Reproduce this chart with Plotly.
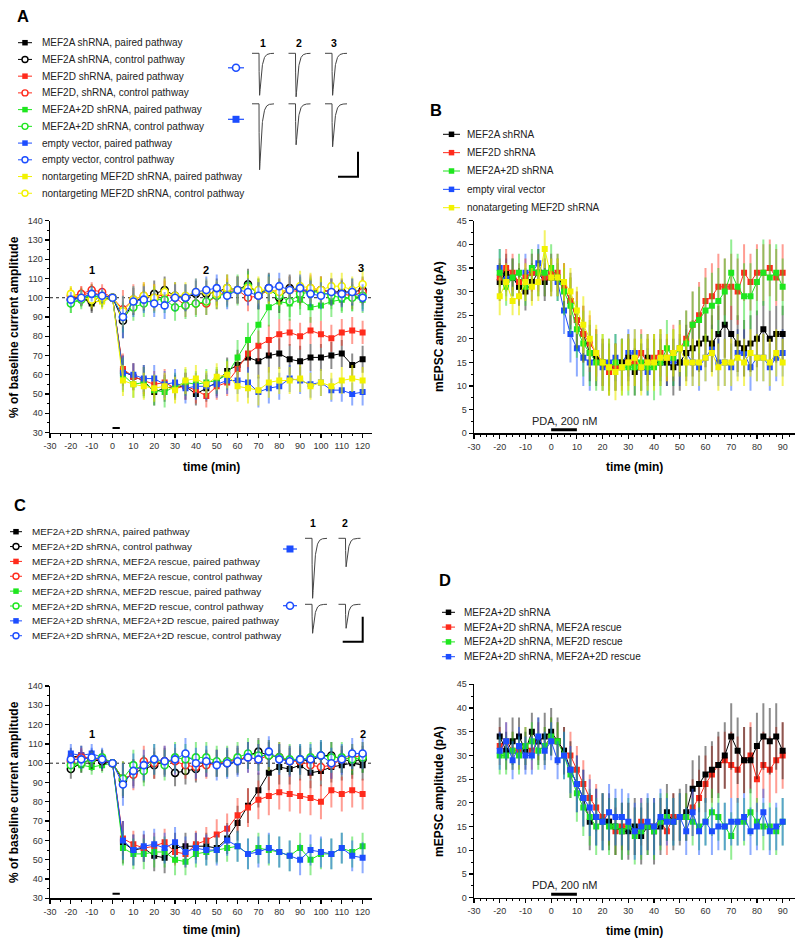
import math
import plotly.graph_objects as go

W, H = 800, 942
FONT = "Liberation Sans, Arial, Helvetica, sans-serif"
TICK_FONT_FAMILY = "Liberation Sans Narrow, Arial Narrow, Liberation Sans, Arial, sans-serif"

# ======================= DATA =======================
A_TIME = [-20, -15, -10, -5, 0, 5, 10, 15, 20, 25, 30, 35, 40, 45, 50, 55, 60, 65, 70, 75,
          80, 85, 90, 95, 100, 105, 110, 115, 120]
C_TIME = list(A_TIME)
B_TIME = [-20, -17.5, -15, -12.5, -10, -7.5, -5, -2.5, 0, 2.5, 5, 7.5, 10, 12.5, 15, 17.5, 20,
          22.5, 25, 27.5, 30, 32.5, 35, 37.5, 40, 42.5, 45, 47.5, 50, 52.5, 55, 57.5, 60, 62.5,
          65, 67.5, 70, 72.5, 75, 77.5, 80, 82.5, 85, 87.5, 90]
D_TIME = list(B_TIME)

# tick labels (hyphen-minus as in the original)
AC_XTICKS = [-30, -20, -10, 0, 10, 20, 30, 40, 50, 60, 70, 80, 90, 100, 110, 120]
AC_XTICKTEXT = ["-30", "-20", "-10", "0", "10", "20", "30", "40", "50", "60", "70", "80", "90",
                "100", "110", "120"]
BD_XTICKS = [-30, -20, -10, 0, 10, 20, 30, 40, 50, 60, 70, 80, 90]
BD_XTICKTEXT = ["-30", "-20", "-10", "0", "10", "20", "30", "40", "50", "60", "70", "80", "90"]

# ---- Panel A (% of baseline) ----
A_2A_paired = [99, 100, 97, 99, 100, 62, 59, 57, 51, 53, 54, 54, 50, 53, 56, 62, 65, 69, 67, 70,
               71, 68, 67, 69, 69, 70, 71, 65, 68]
A_2A_control = [99, 100, 98, 101, 100, 88, 98, 100, 102, 104, 101, 100, 102, 102, 103, 105, 104,
                107, 102, 105, 100, 105, 104, 103, 104, 103, 103, 103, 104]
A_2D_paired = [100, 101, 103, 101, 100, 63, 59, 57, 55, 56, 53, 54, 52, 49, 54, 56, 63, 71, 75,
               78, 81, 82, 80, 83, 81, 79, 82, 83, 82]
A_2D_control = [101, 102, 104, 103, 100, 94, 99, 101, 100, 102, 100, 96, 97, 97, 101, 103, 104,
                100, 101, 104, 103, 104, 103, 105, 104, 103, 102, 101, 103]
A_2A2D_paired = [97, 100, 101, 100, 100, 60, 55, 56, 52, 51, 54, 56, 55, 56, 57, 60, 69, 78, 86,
                 95, 98, 97, 99, 95, 96, 98, 99, 100, 99]
A_2A2D_control = [97, 99, 101, 100, 100, 90, 95, 97, 99, 99, 95, 96, 97, 98, 101, 102, 104, 106,
                  102, 104, 101, 98, 102, 103, 103, 101, 100, 100, 101]
A_empty_paired = [99, 100, 102, 101, 100, 61, 60, 58, 58, 55, 56, 53, 54, 54, 55, 57, 57, 56, 51,
                  53, 54, 58, 57, 55, 56, 52, 52, 50, 51]
A_empty_control = [99, 100, 102, 101, 100, 90, 98, 99, 97, 96, 100, 100, 103, 104, 105, 101, 104,
                   103, 101, 105, 106, 104, 105, 102, 101, 103, 102, 103, 100]
A_nt_paired = [102, 100, 98, 98, 100, 57, 55, 54, 53, 54, 52, 57, 58, 55, 59, 60, 54, 53, 52, 56,
               57, 57, 58, 54, 56, 54, 57, 58, 57]
A_nt_control = [102, 100, 99, 100, 100, 93, 99, 101, 100, 103, 101, 101, 103, 103, 102, 105, 104,
                105, 104, 104, 103, 104, 106, 105, 104, 106, 106, 104, 107]

A_2A_paired_err = [4, 4, 5, 4, 0, 8, 7, 8, 7, 7, 6, 7, 6, 7, 7, 7, 8, 8, 9, 9, 8, 8, 8, 7, 7, 7, 7, 6, 7]
A_2A_control_err = [4, 4, 5, 4, 0, 9, 7, 7, 7, 7, 7, 7, 7, 7, 7, 7, 7, 8, 8, 8, 8, 7, 7, 7, 7, 7, 7, 7, 7]
A_2D_paired_err = [4, 5, 4, 4, 0, 8, 7, 7, 7, 7, 6, 7, 7, 6, 7, 7, 8, 8, 8, 8, 8, 7, 7, 7, 7, 7, 7, 7, 6]
A_2D_control_err = [4, 4, 4, 4, 0, 10, 8, 7, 7, 7, 7, 6, 6, 6, 7, 7, 7, 7, 7, 7, 7, 7, 7, 7, 7, 7, 7, 7, 7]
A_2A2D_paired_err = [5, 5, 6, 5, 0, 9, 7, 8, 8, 8, 7, 7, 7, 7, 7, 8, 9, 9, 10, 10, 9, 9, 8, 8, 8, 8, 7, 7, 7]
A_2A2D_control_err = [5, 5, 5, 4, 0, 8, 7, 7, 7, 7, 7, 7, 7, 7, 7, 7, 8, 8, 8, 8, 8, 8, 8, 8, 7, 7, 7, 7, 7]
A_empty_paired_err = [4, 4, 4, 4, 0, 9, 6, 7, 7, 7, 7, 8, 7, 7, 7, 7, 7, 8, 8, 8, 7, 7, 7, 7, 7, 6, 6, 6, 7]
A_empty_control_err = [4, 4, 4, 4, 0, 11, 8, 7, 7, 7, 7, 7, 7, 7, 7, 7, 7, 7, 7, 7, 7, 7, 7, 7, 7, 7, 7, 7, 7]
A_nt_paired_err = [4, 4, 4, 4, 0, 8, 7, 7, 7, 7, 7, 7, 7, 7, 7, 7, 8, 8, 8, 8, 7, 7, 7, 7, 7, 7, 7, 7, 7]
A_nt_control_err = [4, 4, 4, 4, 0, 8, 7, 7, 7, 7, 7, 7, 7, 7, 7, 7, 7, 7, 7, 7, 7, 7, 8, 8, 7, 7, 7, 7, 8]

# ---- Panel B (mEPSC amplitude, pA) ----
B_2A = [32, 34, 33, 31, 30, 32, 34, 32, 33, 33, 31, 28, 24, 21, 17, 16, 15, 14, 14, 15,
        16, 13, 14, 16, 15, 15, 15, 14, 15, 17, 18, 19, 20, 19, 21, 23, 21, 19, 18, 19,
        20, 22, 20, 21, 21]
B_2D = [33, 35, 34, 32, 33, 34, 34, 33, 34, 34, 31, 28, 24, 21, 19, 17, 15, 13, 14, 14,
        15, 15, 17, 15, 16, 17, 16, 17, 18, 20, 23, 25, 28, 29, 31, 31, 31, 30, 34, 32,
        34, 34, 35, 33, 34]
B_2A2D = [34, 31, 33, 34, 31, 35, 34, 34, 35, 33, 30, 27, 22, 19, 17, 15, 15, 14, 15, 14,
          14, 14, 15, 14, 14, 15, 18, 16, 18, 19, 23, 24, 26, 27, 28, 30, 34, 31, 29, 29,
          32, 34, 33, 34, 31]
B_empty = [35, 33, 33, 31, 34, 34, 36, 33, 34, 32, 26, 21, 18, 16, 15, 16, 14, 15, 16, 15,
           17, 17, 14, 13, 15, 16, 15, 15, 15, 17, 15, 14, 16, 18, 15, 15, 14, 17, 17, 14,
           16, 16, 14, 16, 17]
B_nt = [29, 32, 28, 29, 32, 31, 32, 39, 33, 33, 32, 30, 26, 23, 20, 17, 15, 14, 13, 14,
        15, 16, 14, 15, 15, 16, 16, 17, 18, 15, 15, 15, 16, 17, 14, 15, 15, 16, 15, 17,
        16, 16, 15, 17, 15]

B_2A_err = [4, 4, 4, 4, 4, 4, 5, 4, 4, 4, 5, 6, 6, 6, 6, 6, 5, 5, 5, 5, 5, 5, 5, 5, 5, 5, 5, 6, 6, 6,
            6, 6, 6, 6, 6, 7, 6, 6, 6, 6, 6, 6, 6, 6, 6]
B_2D_err = [4, 4, 4, 4, 4, 4, 4, 4, 4, 4, 5, 5, 6, 6, 6, 5, 5, 5, 5, 5, 5, 5, 5, 5, 5, 5, 5, 6, 6, 6,
            7, 7, 7, 7, 7, 6, 7, 7, 6, 6, 6, 6, 6, 6, 6]
B_2A2D_err = [5, 4, 4, 4, 4, 4, 5, 5, 5, 5, 5, 6, 6, 7, 7, 6, 6, 6, 6, 6, 6, 6, 6, 6, 7, 7, 6, 6, 6, 7,
              7, 7, 7, 7, 7, 7, 7, 7, 7, 7, 7, 7, 7, 6, 6]
B_empty_err = [4, 4, 4, 4, 4, 4, 4, 4, 4, 4, 5, 6, 6, 6, 6, 5, 5, 5, 5, 5, 5, 5, 5, 5, 5, 5, 5, 5, 5, 5,
               5, 5, 5, 5, 5, 5, 5, 5, 5, 5, 5, 5, 5, 5, 5]
B_nt_err = [4, 4, 3, 4, 4, 4, 4, 4, 4, 4, 4, 5, 5, 6, 6, 6, 6, 6, 6, 6, 6, 6, 6, 6, 6, 6, 5, 5, 5, 5,
            5, 5, 5, 5, 5, 5, 5, 5, 5, 5, 5, 5, 5, 5, 5]

# ---- Panel C (% of baseline) ----
C_2A2D_paired = [103, 104, 101, 102, 100, 59, 55, 56, 52, 51, 56, 57, 57, 57, 56, 61, 69, 78, 86,
                 95, 98, 97, 99, 95, 96, 98, 99, 100, 99]
C_2A2D_control = [97, 100, 102, 101, 100, 91, 95, 97, 99, 101, 95, 96, 97, 100, 100, 100, 101, 104,
                  106, 104, 103, 101, 102, 101, 104, 104, 102, 101, 102]
C_r2A_paired = [102, 104, 102, 103, 100, 61, 58, 56, 57, 59, 54, 53, 58, 60, 63, 66, 73, 77, 81,
                83, 85, 84, 83, 82, 80, 86, 84, 86, 84]
C_r2A_control = [101, 103, 102, 102, 100, 92, 94, 101, 100, 101, 101, 99, 98, 99, 100, 101, 102,
                 103, 102, 104, 103, 101, 101, 99, 98, 99, 102, 103, 104]
C_r2D_paired = [99, 99, 98, 99, 100, 56, 53, 53, 54, 54, 50, 49, 53, 54, 55, 56, 57, 53, 56, 55,
                54, 52, 56, 50, 53, 53, 56, 54, 57]
C_r2D_control = [99, 100, 102, 103, 100, 92, 99, 96, 102, 99, 103, 102, 103, 103, 101, 101, 103,
                 105, 104, 104, 103, 102, 102, 103, 104, 103, 103, 102, 103]
C_r2A2D_paired = [105, 104, 105, 103, 100, 60, 55, 57, 58, 56, 59, 54, 56, 55, 55, 60, 57, 53, 54,
                  56, 54, 52, 50, 55, 54, 53, 56, 52, 51]
C_r2A2D_control = [102, 102, 103, 102, 100, 89, 96, 99, 102, 101, 102, 105, 100, 101, 99, 100, 101,
                   103, 102, 106, 102, 101, 102, 102, 104, 100, 102, 105, 105]

C_2A2D_paired_err = [5, 5, 5, 5, 0, 11, 8, 7, 8, 8, 8, 7, 7, 7, 7, 8, 9, 9, 9, 9, 9, 8, 8, 8, 8, 8, 8, 8, 8]
C_2A2D_control_err = [5, 5, 5, 5, 0, 9, 7, 7, 7, 7, 7, 7, 7, 7, 7, 7, 7, 7, 7, 7, 7, 7, 7, 7, 7, 7, 7, 7, 7]
C_r2A_paired_err = [4, 4, 4, 4, 0, 9, 7, 7, 7, 7, 7, 7, 7, 7, 8, 8, 9, 10, 10, 10, 9, 9, 9, 9, 9, 9, 9, 9, 8]
C_r2A_control_err = [4, 4, 4, 4, 0, 9, 8, 8, 8, 8, 7, 7, 7, 7, 7, 7, 7, 8, 8, 8, 8, 8, 7, 7, 7, 7, 7, 7, 7]
C_r2D_paired_err = [4, 4, 4, 4, 0, 9, 8, 8, 8, 8, 8, 7, 7, 7, 7, 7, 8, 8, 8, 8, 8, 8, 8, 8, 8, 8, 8, 8, 7]
C_r2D_control_err = [4, 4, 4, 4, 0, 9, 8, 8, 8, 8, 8, 8, 8, 8, 8, 8, 8, 8, 8, 8, 8, 8, 8, 8, 8, 8, 8, 8, 8]
C_r2A2D_paired_err = [5, 5, 5, 5, 0, 10, 8, 8, 8, 8, 8, 8, 8, 8, 8, 8, 8, 8, 8, 8, 8, 8, 8, 8, 8, 8, 8, 8, 8]
C_r2A2D_control_err = [5, 5, 5, 5, 0, 11, 9, 8, 8, 8, 8, 8, 8, 8, 8, 8, 8, 8, 8, 8, 8, 8, 8, 8, 8, 8, 8, 8, 8]

# ---- Panel D (mEPSC amplitude, pA) ----
D_2A2D = [34, 31, 33, 34, 31, 35, 33, 34, 35, 33, 31, 27, 24, 21, 16, 17, 16, 16, 15, 14,
          14, 15, 13, 15, 14, 15, 18, 16, 17, 18, 23, 24, 26, 27, 28, 30, 34, 31, 29, 29,
          32, 34, 33, 34, 31]
D_r2A = [32, 33, 31, 31, 32, 31, 33, 32, 34, 33, 31, 30, 27, 24, 21, 19, 17, 16, 14, 15,
         15, 14, 16, 15, 15, 16, 14, 17, 17, 17, 19, 21, 24, 26, 28, 29, 28, 27, 29, 30,
         25, 28, 27, 29, 30]
D_r2D = [30, 30, 31, 30, 32, 33, 31, 32, 34, 33, 30, 26, 22, 19, 17, 15, 16, 15, 15, 14,
         15, 13, 14, 15, 14, 16, 17, 16, 17, 17, 16, 15, 16, 18, 17, 15, 13, 16, 16, 18,
         16, 15, 15, 14, 16]
D_r2A2D = [31, 33, 29, 32, 30, 30, 34, 31, 33, 29, 30, 27, 24, 21, 19, 17, 16, 18, 17, 17,
           16, 14, 15, 16, 15, 17, 16, 16, 17, 14, 18, 14, 16, 14, 15, 15, 16, 16, 17, 14,
           15, 18, 14, 15, 16]

D_2A2D_err = [4, 4, 5, 4, 4, 4, 5, 5, 5, 5, 5, 6, 6, 6, 6, 6, 6, 6, 6, 6, 6, 6, 6, 6, 7, 6, 6, 6, 6, 6,
              6, 6, 6, 6, 7, 7, 7, 7, 7, 7, 7, 7, 7, 7, 6]
D_r2A_err = [4, 4, 4, 4, 4, 4, 4, 4, 4, 4, 5, 5, 5, 5, 5, 5, 5, 5, 5, 5, 5, 5, 5, 5, 5, 5, 5, 5, 5, 5,
             6, 6, 6, 6, 6, 6, 7, 7, 7, 7, 7, 7, 7, 7, 7]
D_r2D_err = [4, 4, 4, 4, 4, 4, 4, 4, 4, 4, 5, 5, 6, 6, 6, 6, 6, 6, 6, 6, 6, 6, 6, 6, 6, 6, 5, 5, 5, 5,
             5, 5, 5, 5, 5, 5, 5, 5, 5, 5, 5, 5, 5, 5, 5]
D_r2A2D_err = [4, 4, 4, 4, 4, 4, 4, 4, 4, 4, 5, 5, 6, 6, 6, 6, 6, 6, 6, 6, 6, 6, 6, 6, 6, 6, 5, 5, 5, 5,
               5, 5, 5, 5, 5, 5, 5, 5, 5, 5, 5, 5, 5, 5, 5]

# ---- representative traces (insets), amplitudes in pA ----
INSET_A_CONTROL_AMP = [84, 87, 84]
INSET_A_PAIRED_AMP = [132, 82, 86]
INSET_C_PAIRED_AMP = [120, 57]
INSET_C_CONTROL_AMP = [58, 48]
SCALE_BAR_MS = 20
SCALE_BAR_PA = 50

# ---- labels ----
A_LABELS = ["MEF2A shRNA, paired pathway", "MEF2A shRNA, control pathway",
            "MEF2D shRNA, paired pathway", "MEF2D, shRNA, control pathway",
            "MEF2A+2D shRNA, paired pathway", "MEF2A+2D shRNA, control pathway",
            "empty vector, paired pathway", "empty vector, control pathway",
            "nontargeting MEF2D shRNA, paired pathway", "nontargeting MEF2D shRNA, control pathway"]
B_LABELS = ["MEF2A shRNA", "MEF2D shRNA", "MEF2A+2D shRNA", "empty viral vector",
            "nonatargeting MEF2D shRNA"]
C_LABELS = ["MEF2A+2D shRNA, paired pathway", "MEF2A+2D shRNA, control pathway",
            "MEF2A+2D shRNA, MEF2A rescue, paired pathway", "MEF2A+2D shRNA, MEF2A rescue, control pathway",
            "MEF2A+2D shRNA, MEF2D rescue, paired pathway", "MEF2A+2D shRNA, MEF2D rescue, control pathway",
            "MEF2A+2D shRNA, MEF2A+2D rescue, paired pathway", "MEF2A+2D shRNA, MEF2A+2D rescue, control pathway"]
D_LABELS = ["MEF2A+2D shRNA", "MEF2A+2D shRNA, MEF2A rescue", "MEF2A+2D shRNA, MEF2D rescue",
            "MEF2A+2D shRNA, MEF2A+2D rescue"]

# ======================= STYLE =======================
COL = {"black": "#000000", "red": "#ff2b1c", "green": "#1ee61e", "blue": "#1c4dff", "yellow": "#f2f200"}
ERRCOL = {"black": "rgba(0,0,0,0.45)", "red": "rgba(255,60,40,0.5)", "green": "rgba(40,220,40,0.5)",
          "blue": "rgba(30,90,255,0.5)", "yellow": "rgba(235,235,0,0.6)"}


def dxm(x0, x1):
    return [x0 / W, x1 / W]


def dym(top, bottom):
    return [1 - bottom / H, 1 - top / H]


def px(x):
    return x / W


def py(y):
    return 1 - y / H


fig = go.Figure()


def add_series(ax, t, vals, errs, cname, filled, msize=6):
    xa, ya = ax
    if filled:
        marker = dict(symbol="square", size=msize, color=COL[cname], line=dict(width=0))
    else:
        marker = dict(symbol="circle", size=msize + 1, color="white", line=dict(color=COL[cname], width=1.6))
    fig.add_trace(go.Scatter(
        x=t, y=vals, xaxis=xa, yaxis=ya, mode="lines+markers",
        line=dict(color=COL[cname], width=1), marker=marker,
        error_y=dict(type="data", array=errs, visible=True, color=ERRCOL[cname], thickness=2, width=0),
        hoverinfo="skip", showlegend=False))


# ---- Panel A series (legend order) ----
A_SERIES = [
    (A_2A_paired, A_2A_paired_err, "black", True), (A_2A_control, A_2A_control_err, "black", False),
    (A_2D_paired, A_2D_paired_err, "red", True), (A_2D_control, A_2D_control_err, "red", False),
    (A_2A2D_paired, A_2A2D_paired_err, "green", True), (A_2A2D_control, A_2A2D_control_err, "green", False),
    (A_empty_paired, A_empty_paired_err, "blue", True), (A_empty_control, A_empty_control_err, "blue", False),
    (A_nt_paired, A_nt_paired_err, "yellow", True), (A_nt_control, A_nt_control_err, "yellow", False),
]
A_DRAW_ORDER = [0, 2, 4, 6, 8, 1, 3, 5, 9, 7]
for i in A_DRAW_ORDER:
    v, e, c, f = A_SERIES[i]
    add_series(("x", "y"), A_TIME, v, e, c, f)

B_SERIES = [(B_2A, B_2A_err, "black"), (B_2D, B_2D_err, "red"), (B_2A2D, B_2A2D_err, "green"),
            (B_empty, B_empty_err, "blue"), (B_nt, B_nt_err, "yellow")]
for v, e, c in [B_SERIES[i] for i in [3, 0, 1, 2, 4]]:
    add_series(("x2", "y2"), B_TIME, v, e, c, True, 6)

C_SERIES = [
    (C_2A2D_paired, C_2A2D_paired_err, "black", True), (C_2A2D_control, C_2A2D_control_err, "black", False),
    (C_r2A_paired, C_r2A_paired_err, "red", True), (C_r2A_control, C_r2A_control_err, "red", False),
    (C_r2D_paired, C_r2D_paired_err, "green", True), (C_r2D_control, C_r2D_control_err, "green", False),
    (C_r2A2D_paired, C_r2A2D_paired_err, "blue", True), (C_r2A2D_control, C_r2A2D_control_err, "blue", False),
]
for i in [0, 2, 4, 6, 1, 3, 5, 7]:
    v, e, c, f = C_SERIES[i]
    add_series(("x3", "y3"), C_TIME, v, e, c, f)

D_SERIES = [(D_2A2D, D_2A2D_err, "black"), (D_r2A, D_r2A_err, "red"), (D_r2D, D_r2D_err, "green"),
            (D_r2A2D, D_r2A2D_err, "blue")]
for v, e, c in [D_SERIES[i] for i in [1, 0, 2, 3]]:
    add_series(("x4", "y4"), D_TIME, v, e, c, True, 6)


# ---- representative EPSC traces ----
def epsc_waveform(amp, t_len=22.0, onset=7.0, tau_r=0.25, tau_d=2.0, dt=0.1):
    n = int(round(t_len / dt)) + 1
    ts = [i * dt for i in range(n)]
    raw = [(math.exp(-(t - onset) / tau_d) - math.exp(-(t - onset) / tau_r)) if t >= onset else 0.0
           for t in ts]
    peak = max(raw)
    return ts, [-amp * r / peak for r in raw]


def add_trace_row(ax, amps, col_start, col_gap, baseline):
    xa, ya = ax
    xs, ys = [], []
    for k, a in enumerate(amps):
        ts, cur = epsc_waveform(a)
        xs += [col_start + col_gap * k + t for t in ts] + [None]
        ys += [baseline + c for c in cur] + [None]
    fig.add_trace(go.Scatter(x=xs, y=ys, xaxis=xa, yaxis=ya, mode="lines",
                             line=dict(color="#444", width=1), hoverinfo="skip", showlegend=False))


def add_scale_bar(ax, x_end, y_bottom):
    xa, ya = ax
    fig.add_trace(go.Scatter(x=[x_end - SCALE_BAR_MS, x_end, x_end],
                             y=[y_bottom, y_bottom, y_bottom + SCALE_BAR_PA],
                             xaxis=xa, yaxis=ya, mode="lines", line=dict(color="black", width=2),
                             hoverinfo="skip", showlegend=False))


def add_pathway_marker(ax, xc, yc, filled, half=8):
    xa, ya = ax
    fig.add_trace(go.Scatter(x=[xc - half, xc + half], y=[yc, yc], xaxis=xa, yaxis=ya, mode="lines",
                             line=dict(color=COL["blue"], width=1.2), hoverinfo="skip", showlegend=False))
    mk = (dict(symbol="square", size=7, color=COL["blue"]) if filled else
          dict(symbol="circle", size=7, color="white", line=dict(color=COL["blue"], width=1.6)))
    fig.add_trace(go.Scatter(x=[xc], y=[yc], xaxis=xa, yaxis=ya, mode="markers", marker=mk,
                             hoverinfo="skip", showlegend=False))


# inset A: top row control (open circle), bottom row paired (filled square)
add_trace_row(("x5", "y5"), INSET_A_CONTROL_AMP, 24, 36.5, 0)
add_trace_row(("x5", "y5"), INSET_A_PAIRED_AMP, 24, 36.5, -101)
add_scale_bar(("x5", "y5"), 130, -247)
add_pathway_marker(("x5", "y5"), 8, -29, False)
add_pathway_marker(("x5", "y5"), 8, -132, True)

# inset C: top row paired (filled square), bottom row control (open circle)
add_trace_row(("x6", "y6"), INSET_C_PAIRED_AMP, 25, 33.5, 0)
add_trace_row(("x6", "y6"), INSET_C_CONTROL_AMP, 25, 33.5, -132)
add_scale_bar(("x6", "y6"), 82.7, -207)
add_pathway_marker(("x6", "y6"), 10, -21.4, True, 7)
add_pathway_marker(("x6", "y6"), 10, -134.8, False, 7)

# ---- custom legends (overlay axis in figure pixels) ----
annotations = []


def add_legend(labels, colors, filled, x0, x1, xtext, ytop, dy, fsize):
    for i, lab in enumerate(labels):
        yy = ytop + dy * i
        c = colors[i]
        fig.add_trace(go.Scatter(x=[x0, x1], y=[yy, yy], xaxis="x7", yaxis="y7", mode="lines",
                                 line=dict(color=COL[c], width=1), hoverinfo="skip", showlegend=False))
        mk = (dict(symbol="square", size=5.5, color=COL[c]) if filled[i] else
              dict(symbol="circle", size=6, color="white", line=dict(color=COL[c], width=1.4)))
        fig.add_trace(go.Scatter(x=[(x0 + x1) / 2], y=[yy], xaxis="x7", yaxis="y7", mode="markers",
                                 marker=mk, hoverinfo="skip", showlegend=False))
        annotations.append(dict(x=px(xtext), y=py(yy), xref="paper", yref="paper", text=lab,
                                showarrow=False, xanchor="left", yanchor="middle",
                                font=dict(family=FONT, size=fsize, color="#222")))


add_legend(A_LABELS, [s[2] for s in A_SERIES], [s[3] for s in A_SERIES], 18, 32, 40, 42.7, 16.73, 10)
add_legend(B_LABELS, [s[2] for s in B_SERIES], [True] * 5, 443, 460, 465, 134.3, 18.35, 10)
add_legend(C_LABELS, [s[2] for s in C_SERIES], [s[3] for s in C_SERIES], 10, 22, 30, 531.7, 14.86, 9.9)
add_legend(D_LABELS, [s[2] for s in D_SERIES], [True] * 4, 442, 455, 462, 612.3, 14.8, 10)

# ======================= AXES =======================
TICKFONT = dict(family=TICK_FONT_FAMILY, size=9, color="#333")


def axis(domain, rng, dtick, tick0, minor_dtick, anchor, **kw):
    d = dict(domain=domain, range=rng, dtick=dtick, tick0=tick0, anchor=anchor,
             showline=True, linecolor="black", linewidth=1.5, ticks="outside", ticklen=4,
             tickwidth=1.2, tickcolor="black", showgrid=False, zeroline=False, tickfont=TICKFONT,
             minor=dict(ticks="outside", ticklen=2, tickwidth=1, tickcolor="black",
                        dtick=minor_dtick, tick0=tick0, showgrid=False))
    d.update(kw)
    return d


hidden = dict(visible=False, showgrid=False, zeroline=False)

layout = dict(
    width=W, height=H, margin=dict(l=0, r=0, t=0, b=0, autoexpand=False),
    paper_bgcolor="white", plot_bgcolor="rgba(0,0,0,0)", showlegend=False,
    font=dict(family=FONT),
    xaxis=axis(dxm(50, 372), [-30, 124.5], 10, -30, 5, "y",
               tickmode="array", tickvals=AC_XTICKS, ticktext=AC_XTICKTEXT),
    yaxis=axis(dym(220.7, 432.5), [30, 140], 10, 30, 5, "x"),
    xaxis2=axis(dxm(474, 795), [-30, 94.8], 10, -30, 2.5, "y2",
                tickmode="array", tickvals=BD_XTICKS, ticktext=BD_XTICKTEXT),
    yaxis2=axis(dym(220.7, 433.3), [0, 45], 5, 0, 2.5, "x2"),
    xaxis3=axis(dxm(50, 372), [-30, 124.5], 10, -30, 5, "y3",
                tickmode="array", tickvals=AC_XTICKS, ticktext=AC_XTICKTEXT),
    yaxis3=axis(dym(686, 898.3), [30, 140], 10, 30, 5, "x3"),
    xaxis4=axis(dxm(474, 795), [-30, 94.8], 10, -30, 2.5, "y4",
                tickmode="array", tickvals=BD_XTICKS, ticktext=BD_XTICKTEXT),
    yaxis4=axis(dym(684.3, 897.7), [0, 45], 5, 0, 2.5, "x4"),
    xaxis5=dict(domain=dxm(228, 363), range=[0, 135], anchor="y5", **hidden),
    yaxis5=dict(domain=dym(48, 180), range=[-253.4, 10.6], anchor="x5", **hidden),
    xaxis6=dict(domain=dxm(280, 366), range=[0, 86], anchor="y6", **hidden),
    yaxis6=dict(domain=dym(515, 645), range=[-213.4, 46.6], anchor="x6", **hidden),
    xaxis7=dict(domain=[0, 1], range=[0, W], anchor="y7", **hidden),
    yaxis7=dict(domain=[0, 1], range=[H, 0], anchor="x7", **hidden),
)

# reference line at 100 % and stimulation/drug bars
shapes = []
for xr, yr in [("x", "y"), ("x3", "y3")]:
    shapes.append(dict(type="line", xref=xr, yref=yr, x0=-30, x1=124.5, y0=100, y1=100,
                       line=dict(color="#222", width=1, dash="dot"), layer="below"))
    shapes.append(dict(type="line", xref=xr, yref=yr, x0=0, x1=3.5, y0=32.3, y1=32.3,
                       line=dict(color="black", width=2)))
for xr, yr in [("x2", "y2"), ("x4", "y4")]:
    shapes.append(dict(type="line", xref=xr, yref=yr, x0=0, x1=10, y0=0.75, y1=0.75,
                       line=dict(color="black", width=3)))
    annotations.append(dict(x=5, y=2.6, xref=xr, yref=yr, text="PDA, 200 nM", showarrow=False,
                            xanchor="center", yanchor="middle",
                            font=dict(family=FONT, size=11, color="#222")))


def ann(x, y, text, size, angle=0, bold=True):
    annotations.append(dict(x=px(x), y=py(y), xref="paper", yref="paper",
                            text=("<b>%s</b>" % text) if bold else text, showarrow=False,
                            xanchor="center", yanchor="middle", textangle=angle,
                            font=dict(family=FONT, size=size, color="black")))


# panel letters
ann(22.5, 16, "A", 16.5)
ann(435.5, 110, "B", 16.5)
ann(20, 505, "C", 16.5)
ann(445, 580, "D", 16.5)
# axis titles
ann(211, 467, "time (min)", 12)
ann(634, 467, "time (min)", 12)
ann(211, 930, "time (min)", 12)
ann(634, 931, "time (min)", 12)
ann(14, 327, "% of baseline current amplitude", 12, -90)
ann(14, 792, "% of baseline current amplitude", 12, -90)
ann(439, 326, "mEPSC amplitude (pA)", 12, -90)
ann(439, 791, "mEPSC amplitude (pA)", 12, -90)

# time-point labels inside plots
for t_lab, xv, yv, xr, yr in [("1", -10, 114.5, "x", "y"), ("2", 45, 114.5, "x", "y"),
                               ("3", 119, 115.5, "x", "y"), ("1", -10, 115, "x3", "y3"),
                               ("2", 120, 115, "x3", "y3")]:
    annotations.append(dict(x=xv, y=yv, xref=xr, yref=yr, text="<b>%s</b>" % t_lab, showarrow=False,
                            xanchor="center", yanchor="middle", font=dict(family=FONT, size=11, color="black")))
# inset labels
for t_lab, xx, yy in [("1", 262.7, 43.3), ("2", 299, 43.3), ("3", 334.3, 43.3),
                      ("1", 313.3, 523.3), ("2", 345, 523.3)]:
    ann(xx, yy, t_lab, 10.5)

layout["shapes"] = shapes
layout["annotations"] = annotations
fig.update_layout(**layout)

fig.write_html("out.html", config={"displayModeBar": False, "staticPlot": True},
               post_script="document.body.style.margin='0';document.body.style.overflow='hidden';")
